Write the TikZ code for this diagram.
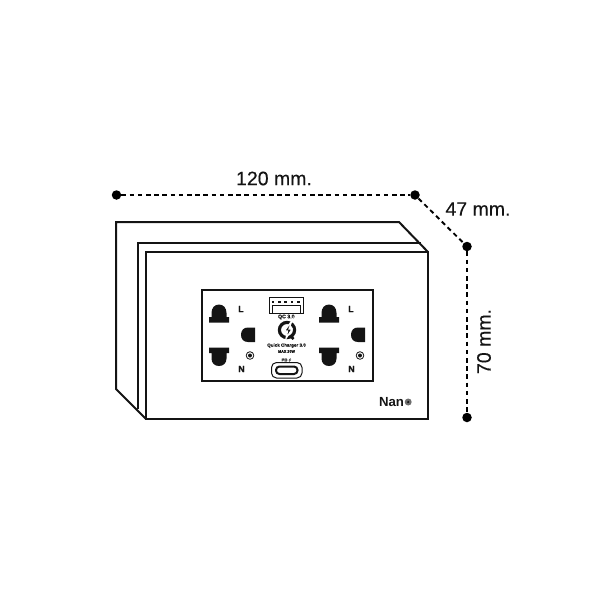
\documentclass[tikz,border=0pt]{standalone}
\usepackage{fontspec}
\setmainfont{Liberation Sans}
\newfontfamily\heavyfont[FakeBold=0.25]{Liberation Sans}
\newfontfamily\smallfont[FakeBold=0.4]{Liberation Sans Bold}
\usetikzlibrary{positioning}
\definecolor{inkcolor}{RGB}{20, 20, 20}
\definecolor{logocolor}{RGB}{110, 110, 110}
\newcommand{\sizedfont}[1]{\fontsize{#1}{#1}\selectfont}

\begin{document}
\begin{tikzpicture}[
    x=1pt,
    y=-1pt,
    outline/.style={
        draw=inkcolor,
        line width=2pt,
        line join=miter
    },
    hole/.style={
        fill=inkcolor
    },
    dimdot/.style={
        circle,
        fill=black,
        minimum size=9.5pt,
        inner sep=0pt
    },
    dimline/.style={
        draw=black,
        line width=1.9pt,
        dash pattern=on 4.6pt off 3.6pt
    },
    dimlabel/.style={
        inner sep=0pt,
        text=inkcolor,
        font=\heavyfont\sizedfont{19.5}
    },
    socketlabel/.style={
        inner sep=0pt,
        text=inkcolor,
        font=\smallfont\sizedfont{9}
    },
    portlabel/.style={
        inner sep=0pt,
        text=inkcolor
    }
]

\useasboundingbox (0,0) rectangle (600,600);

% Body of the box, back to front
\draw[outline] (146,419) -- (116,389) -- (116,222) -- (399,222) -- (428,252);
\draw[outline] (138,409) -- (138,243) -- (421,243);
\draw[outline] (146,252) rectangle (428,419);

% Socket plate
\draw[outline] (201.5,290) rectangle (373,381);

% Outlets, left and right of the USB ports
\foreach \dx/\name in {0/a, 110/b} {
    \begin{scope}[xshift=\dx pt]
        \fill[hole] (209,322.5) -- (209,317) -- (211.5,317) -- (211.5,313) .. controls (211.5,308) and (214.5,304.5) .. (219,304.5) .. controls (223.5,304.5) and (226.5,308) .. (226.5,313) -- (226.5,317) -- (229,317) -- (229,322.5) -- cycle;
        \fill[hole] (209,347.5) -- (229,347.5) -- (229,353) -- (226.5,353) -- (226.5,358.5) .. controls (226.5,363) and (223.5,366) .. (219,366) .. controls (214.5,366) and (211.5,363) .. (211.5,358.5) -- (211.5,353) -- (209,353) -- cycle;
        \fill[hole] (255,327.5) -- (255,342) -- (248,342) .. controls (243.5,342) and (241,339) .. (241,334.8) .. controls (241,330.5) and (243.5,327.5) .. (248,327.5) -- cycle;
        \node[socketlabel] (live\name) at (241,309) {L};
        \node[socketlabel] (neutral\name) at (241.5,369) {N};
        \draw[draw=inkcolor, line width=0.8pt] (250,355.5) circle (3.8);
        \fill[hole] (250,355.5) circle (2);
    \end{scope}
}

% USB-A port
\draw[draw=inkcolor, line width=1pt] (269.5,297) rectangle (303,313);
\draw[draw=inkcolor, line width=0.8pt] (272,313) -- (272,305.5) -- (300,305.5) -- (300,313);
\foreach \px in {273,279.5,285.5,292,298.5} {
    \fill[hole] (\px-1.3,300.6) rectangle (\px+1.3,303.4);
}

% Quick charge logo
\node[portlabel, font=\smallfont\sizedfont{5.2}] (qclabel) at (286.3,317) {QC 3.0};
\draw[draw=inkcolor, line width=3.2pt] (287,330) circle (7.6);
\draw[draw=inkcolor, line width=2.6pt] (290.5,336) -- (293.5,339);
\fill[hole, draw=white, line width=1.2pt] (292,320.5) -- (284.5,331) -- (287.5,331) -- (286,338.5) -- (292,329) -- (289,329) -- cycle;
\node[portlabel, font=\smallfont\sizedfont{4.5}] (chargerlabel) at (286.5,345.5) {Quick Charger 3.0};
\node[portlabel, font=\smallfont\sizedfont{3.7}] (maxlabel) at (286.5,351.5) {MAX 20W};

% USB-C port
\node[portlabel, font=\smallfont\sizedfont{4.2}] (pdlabel) at (284.5,360) {PD};
\fill[hole] (290.6,358) -- (288.6,360.3) -- (289.8,360.3) -- (289.2,362) -- (291.2,359.6) -- (290,359.6) -- cycle;
\draw[draw=inkcolor, line width=1pt, rounded corners=5pt] (271.5,362.5) rectangle (302,378);
\draw[draw=inkcolor, line width=2pt, rounded corners=3.5pt] (276,366.5) rectangle (297.5,374);

% Brand mark
\node[inner sep=0pt, text=inkcolor, font=\sizedfont{13.2}\bfseries] (brand) at (391.5,402) {Nan};
\fill[logocolor] (408.2,402) circle (3.5);
\fill[hole] (408.2,402) circle (1.2);

% Dimension points
\node[dimdot] (widthstart) at (116.5,195) {};
\node[dimdot] (corner) at (415,195) {};
\node[dimdot] (depthend) at (467,246.5) {};
\node[dimdot] (heightend) at (467,417.5) {};

% Dimension lines
\draw[dimline] (widthstart) -- (corner);
\draw[dimline] (corner) -- (depthend);
\draw[dimline] (depthend) -- (heightend);

% Dimension labels
\node[dimlabel] (widthlabel) at (274,178.5) {120 mm.};
\node[dimlabel] (depthlabel) at (478,209) {47 mm.};
\node[dimlabel, rotate=90] (heightlabel) at (484,341.5) {70 mm.};

\end{tikzpicture}
\end{document}
